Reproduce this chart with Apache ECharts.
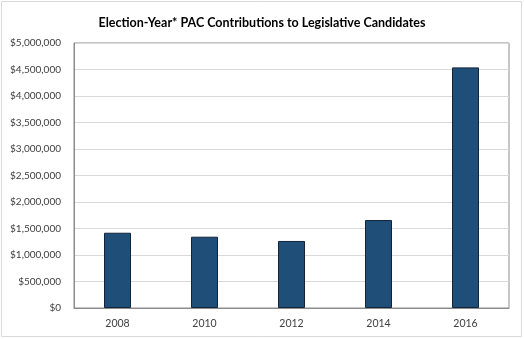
<!DOCTYPE html>
<html>
<head>
<meta charset="utf-8">
<script src="https://cdn.jsdelivr.net/npm/echarts@6/dist/echarts.min.js"></script>
<style>
  html, body { margin: 0; padding: 0; background: #fff; }
  #chart { width: 524px; height: 339px; }
</style>
</head>
<body>
<div id="chart"></div>
<script>
// Election years and PAC contribution totals (USD)
const years = ['2008', '2010', '2012', '2014', '2016'];
const contributions = [1420000, 1345000, 1265000, 1660000, 4540000];

const chart = echarts.init(document.getElementById('chart'));

function dollars(v) {
  return '$' + Math.round(v).toString().replace(/\B(?=(\d{3})+(?!\d))/g, ',');
}

chart.setOption({
  animation: false,
  backgroundColor: '#fff',
  title: {
    text: 'Election-Year* PAC Contributions to Legislative Candidates',
    left: 'center',
    top: 11,
    textStyle: {
      fontFamily: 'Lato',
      fontSize: 12.5,
      fontWeight: 'bold',
      color: '#000'
    }
  },
  graphic: [{
    type: 'rect',
    shape: { x: 1.5, y: 1.5, width: 520, height: 335 },
    style: { fill: 'none', stroke: '#d9d9d9', lineWidth: 1 },
    silent: true
  }],
  grid: {
    left: 74,
    right: 15,
    top: 43,
    bottom: 31,
    show: true,
    borderColor: '#8c8c8c',
    borderWidth: 1
  },
  xAxis: {
    type: 'category',
    data: years,
    axisLine: { lineStyle: { color: '#8c8c8c' } },
    axisTick: { show: false },
    axisLabel: {
      fontFamily: 'Lato',
      fontSize: 10.5,
      color: '#404040',
      margin: 10
    }
  },
  yAxis: {
    type: 'value',
    min: 0,
    max: 5000000,
    interval: 500000,
    axisLine: { show: true, lineStyle: { color: '#8c8c8c' } },
    axisTick: { show: false },
    splitLine: { lineStyle: { color: '#d9d9d9' } },
    axisLabel: {
      fontFamily: 'Lato',
      fontSize: 10,
      color: '#404040',
      margin: 13,
      formatter: dollars
    }
  },
  series: [{
    type: 'bar',
    data: contributions,
    barWidth: 27,
    itemStyle: {
      color: '#1f4e79',
      borderColor: '#13243a',
      borderWidth: 1
    }
  }]
});
</script>
</body>
</html>
